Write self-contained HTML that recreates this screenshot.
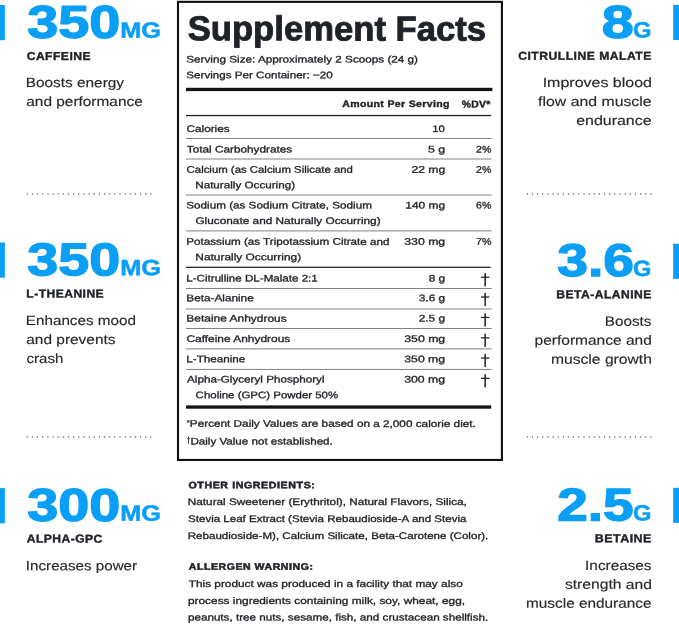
<!DOCTYPE html>
<html><head><meta charset="utf-8"><title>Supplement Facts</title>
<style>
html,body{margin:0;padding:0;background:#fff}
body{width:679px;height:624px;position:relative;overflow:hidden;font-family:"Liberation Sans", sans-serif}
.t{position:absolute;left:0;top:0;white-space:nowrap;margin:0;padding:0;transform-origin:0 0}
#w{position:absolute;left:0;top:0;width:679px;height:624px;will-change:transform}
.bar{position:absolute;width:5px;height:35px;background:#0a9ff6}
.dots{position:absolute;display:block}
.ov{position:absolute;left:0;top:0;display:block}
</style></head>
<body>
<div id="w">
<svg class="ov" width="679" height="624" viewBox="0 0 679 624">
<rect x="0" y="5.00" width="4.9" height="35.2" fill="#0a9ff6"/>
<rect x="0" y="242.50" width="4.9" height="35.2" fill="#0a9ff6"/>
<rect x="0" y="488.10" width="4.9" height="35.2" fill="#0a9ff6"/>
<rect x="673.2" y="4.90" width="5.8" height="35.1" fill="#0a9ff6"/>
<rect x="673.2" y="243.70" width="5.8" height="35.1" fill="#0a9ff6"/>
<rect x="673.2" y="487.80" width="5.8" height="35.1" fill="#0a9ff6"/>
<rect x="178" y="1.85" width="323.9" height="458.1" fill="none" stroke="#0e0f11" stroke-width="2.1"/>
<rect x="186.00" y="87.80" width="306.40" height="3.30" fill="#121315"/>
<rect x="186.00" y="114.90" width="305.20" height="1.30" fill="#1c1e21"/>
<rect x="186.00" y="137.95" width="305.60" height="1.00" fill="#7e8185"/>
<rect x="186.00" y="158.50" width="305.60" height="1.00" fill="#7e8185"/>
<rect x="186.00" y="194.50" width="305.60" height="1.00" fill="#7e8185"/>
<rect x="186.00" y="230.40" width="305.60" height="1.00" fill="#7e8185"/>
<rect x="186.00" y="266.70" width="304.60" height="1.25" fill="#1c1e21"/>
<rect x="484.40" y="273.10" width="1.50" height="13.20" fill="#1f2226"/>
<rect x="480.90" y="276.60" width="8.50" height="1.25" fill="#1f2226"/>
<rect x="186.00" y="288.00" width="305.60" height="1.00" fill="#7e8185"/>
<rect x="484.40" y="292.90" width="1.50" height="13.20" fill="#1f2226"/>
<rect x="480.90" y="296.40" width="8.50" height="1.25" fill="#1f2226"/>
<rect x="186.00" y="308.50" width="305.60" height="1.00" fill="#7e8185"/>
<rect x="484.40" y="313.30" width="1.50" height="13.20" fill="#1f2226"/>
<rect x="480.90" y="316.80" width="8.50" height="1.25" fill="#1f2226"/>
<rect x="186.00" y="328.00" width="305.60" height="1.00" fill="#7e8185"/>
<rect x="484.40" y="333.70" width="1.50" height="13.20" fill="#1f2226"/>
<rect x="480.90" y="337.20" width="8.50" height="1.25" fill="#1f2226"/>
<rect x="186.00" y="348.40" width="305.60" height="1.00" fill="#7e8185"/>
<rect x="484.40" y="353.90" width="1.50" height="13.20" fill="#1f2226"/>
<rect x="480.90" y="357.40" width="8.50" height="1.25" fill="#1f2226"/>
<rect x="186.00" y="368.95" width="305.60" height="1.00" fill="#7e8185"/>
<rect x="484.40" y="374.20" width="1.50" height="13.20" fill="#1f2226"/>
<rect x="480.90" y="377.70" width="8.50" height="1.25" fill="#1f2226"/>
<rect x="186.00" y="405.40" width="305.20" height="3.30" fill="#121315"/>
<rect x="188.10" y="436.40" width="0.90" height="7.40" fill="#3a3c40"/>
<rect x="186.90" y="438.30" width="3.30" height="0.90" fill="#3a3c40"/>
</svg>
<svg class="dots" style="left:25.0px;top:191.80px" width="130" height="4" viewBox="0 0 130 4"><line x1="2.3" y1="2" x2="127" y2="2" stroke="#5f6265" stroke-width="1.5" stroke-linecap="round" stroke-dasharray="0 5.15"/></svg>
<svg class="dots" style="left:524.6px;top:191.80px" width="130" height="4" viewBox="0 0 130 4"><line x1="2.3" y1="2" x2="127" y2="2" stroke="#5f6265" stroke-width="1.5" stroke-linecap="round" stroke-dasharray="0 5.15"/></svg>
<svg class="dots" style="left:25.0px;top:434.80px" width="130" height="4" viewBox="0 0 130 4"><line x1="2.3" y1="2" x2="127" y2="2" stroke="#5f6265" stroke-width="1.5" stroke-linecap="round" stroke-dasharray="0 5.15"/></svg>
<svg class="dots" style="left:524.6px;top:434.80px" width="130" height="4" viewBox="0 0 130 4"><line x1="2.3" y1="2" x2="127" y2="2" stroke="#5f6265" stroke-width="1.5" stroke-linecap="round" stroke-dasharray="0 5.15"/></svg>
<div class="t" style="font-size:46.0px;line-height:52px;color:#0a9ff6;font-weight:700;-webkit-text-stroke:1.3px #0a9ff6;transform:translate(27.21px,-4.25px) scaleX(1.2132) rotate(0.03deg)">350</div>
<div class="t" style="font-size:22.3px;line-height:25px;color:#0a9ff6;font-weight:700;-webkit-text-stroke:0.5px #0a9ff6;transform:translate(120.27px,17.65px) scaleX(1.1355) rotate(0.03deg)">MG</div>
<div class="t" style="font-size:11.5px;line-height:12px;color:#1f2226;font-weight:700;letter-spacing:0.45px;-webkit-text-stroke:0.4px #1f2226;transform:translate(26.67px,49.90px) scaleX(1.0529) rotate(0.03deg)">CAFFEINE</div>
<div class="t" style="font-size:13.4px;line-height:15px;color:#26282b;-webkit-text-stroke:0.15px #26282b;transform:translate(25.75px,75.10px) scaleX(1.1480) rotate(0.03deg)">Boosts energy</div>
<div class="t" style="font-size:13.4px;line-height:15px;color:#26282b;-webkit-text-stroke:0.15px #26282b;transform:translate(26.26px,94.05px) scaleX(1.1507) rotate(0.03deg)">and performance</div>
<div class="t" style="font-size:46.0px;line-height:52px;color:#0a9ff6;font-weight:700;-webkit-text-stroke:1.3px #0a9ff6;transform:translate(27.39px,233.25px) scaleX(1.2103) rotate(0.03deg)">350</div>
<div class="t" style="font-size:22.3px;line-height:25px;color:#0a9ff6;font-weight:700;-webkit-text-stroke:0.5px #0a9ff6;transform:translate(120.18px,255.15px) scaleX(1.1361) rotate(0.03deg)">MG</div>
<div class="t" style="font-size:11.5px;line-height:12px;color:#1f2226;font-weight:700;letter-spacing:0.45px;-webkit-text-stroke:0.4px #1f2226;transform:translate(26.36px,287.40px) scaleX(1.0485) rotate(0.03deg)">L-THEANINE</div>
<div class="t" style="font-size:13.4px;line-height:15px;color:#26282b;-webkit-text-stroke:0.15px #26282b;transform:translate(25.79px,313.00px) scaleX(1.1386) rotate(0.03deg)">Enhances mood</div>
<div class="t" style="font-size:13.4px;line-height:15px;color:#26282b;-webkit-text-stroke:0.15px #26282b;transform:translate(26.28px,331.95px) scaleX(1.1521) rotate(0.03deg)">and prevents</div>
<div class="t" style="font-size:13.4px;line-height:15px;color:#26282b;-webkit-text-stroke:0.15px #26282b;transform:translate(26.43px,350.90px) scaleX(1.1283) rotate(0.03deg)">crash</div>
<div class="t" style="font-size:46.0px;line-height:52px;color:#0a9ff6;font-weight:700;-webkit-text-stroke:1.3px #0a9ff6;transform:translate(27.21px,478.85px) scaleX(1.2131) rotate(0.03deg)">300</div>
<div class="t" style="font-size:22.3px;line-height:25px;color:#0a9ff6;font-weight:700;-webkit-text-stroke:0.5px #0a9ff6;transform:translate(120.27px,500.75px) scaleX(1.1355) rotate(0.03deg)">MG</div>
<div class="t" style="font-size:11.5px;line-height:12px;color:#1f2226;font-weight:700;letter-spacing:0.45px;-webkit-text-stroke:0.4px #1f2226;transform:translate(26.77px,532.60px) scaleX(1.0498) rotate(0.03deg)">ALPHA-GPC</div>
<div class="t" style="font-size:13.4px;line-height:15px;color:#26282b;-webkit-text-stroke:0.15px #26282b;transform:translate(25.87px,558.20px) scaleX(1.1320) rotate(0.03deg)">Increases power</div>
<div class="t" style="font-size:46.0px;line-height:52px;color:#0a9ff6;font-weight:700;-webkit-text-stroke:1.3px #0a9ff6;transform:translate(601.71px,-4.35px) scaleX(1.2515) rotate(0.03deg)">8</div>
<div class="t" style="font-size:22.3px;line-height:25px;color:#0a9ff6;font-weight:700;-webkit-text-stroke:0.5px #0a9ff6;transform:translate(633.07px,17.55px) scaleX(1.0650) rotate(0.03deg)">G</div>
<div class="t" style="font-size:11.5px;line-height:12px;color:#1f2226;font-weight:700;letter-spacing:0.45px;-webkit-text-stroke:0.4px #1f2226;transform:translate(518.24px,49.80px) scaleX(1.0579) rotate(0.03deg)">CITRULLINE MALATE</div>
<div class="t" style="font-size:13.4px;line-height:15px;color:#26282b;-webkit-text-stroke:0.15px #26282b;transform:translate(542.68px,75.00px) scaleX(1.1933) rotate(0.03deg)">Improves blood</div>
<div class="t" style="font-size:13.4px;line-height:15px;color:#26282b;-webkit-text-stroke:0.15px #26282b;transform:translate(538.11px,93.95px) scaleX(1.1819) rotate(0.03deg)">flow and muscle</div>
<div class="t" style="font-size:13.4px;line-height:15px;color:#26282b;-webkit-text-stroke:0.15px #26282b;transform:translate(576.22px,112.90px) scaleX(1.1910) rotate(0.03deg)">endurance</div>
<div class="t" style="font-size:46.0px;line-height:52px;color:#0a9ff6;font-weight:700;-webkit-text-stroke:1.3px #0a9ff6;transform:translate(557.19px,234.05px) scaleX(1.2014) rotate(0.03deg)">3.6</div>
<div class="t" style="font-size:22.3px;line-height:25px;color:#0a9ff6;font-weight:700;-webkit-text-stroke:0.5px #0a9ff6;transform:translate(633.01px,255.95px) scaleX(1.0628) rotate(0.03deg)">G</div>
<div class="t" style="font-size:11.5px;line-height:12px;color:#1f2226;font-weight:700;letter-spacing:0.45px;-webkit-text-stroke:0.4px #1f2226;transform:translate(556.33px,288.20px) scaleX(1.0516) rotate(0.03deg)">BETA-ALANINE</div>
<div class="t" style="font-size:13.4px;line-height:15px;color:#26282b;-webkit-text-stroke:0.15px #26282b;transform:translate(604.79px,313.80px) scaleX(1.1414) rotate(0.03deg)">Boosts</div>
<div class="t" style="font-size:13.4px;line-height:15px;color:#26282b;-webkit-text-stroke:0.15px #26282b;transform:translate(534.54px,332.75px) scaleX(1.1582) rotate(0.03deg)">performance and</div>
<div class="t" style="font-size:13.4px;line-height:15px;color:#26282b;-webkit-text-stroke:0.15px #26282b;transform:translate(550.91px,351.70px) scaleX(1.1704) rotate(0.03deg)">muscle growth</div>
<div class="t" style="font-size:46.0px;line-height:52px;color:#0a9ff6;font-weight:700;-webkit-text-stroke:1.3px #0a9ff6;transform:translate(557.22px,478.55px) scaleX(1.1955) rotate(0.03deg)">2.5</div>
<div class="t" style="font-size:22.3px;line-height:25px;color:#0a9ff6;font-weight:700;-webkit-text-stroke:0.5px #0a9ff6;transform:translate(633.07px,500.45px) scaleX(1.0650) rotate(0.03deg)">G</div>
<div class="t" style="font-size:11.5px;line-height:12px;color:#1f2226;font-weight:700;letter-spacing:0.45px;-webkit-text-stroke:0.4px #1f2226;transform:translate(594.66px,532.30px) scaleX(1.0845) rotate(0.03deg)">BETAINE</div>
<div class="t" style="font-size:13.4px;line-height:15px;color:#26282b;-webkit-text-stroke:0.15px #26282b;transform:translate(585.13px,557.90px) scaleX(1.1426) rotate(0.03deg)">Increases</div>
<div class="t" style="font-size:13.4px;line-height:15px;color:#26282b;-webkit-text-stroke:0.15px #26282b;transform:translate(564.89px,576.85px) scaleX(1.1693) rotate(0.03deg)">strength and</div>
<div class="t" style="font-size:13.4px;line-height:15px;color:#26282b;-webkit-text-stroke:0.15px #26282b;transform:translate(526.04px,595.80px) scaleX(1.1466) rotate(0.03deg)">muscle endurance</div>
<div class="t" style="font-size:34.6px;line-height:38px;color:#1f2226;font-weight:700;-webkit-text-stroke:0.9px #1f2226;transform:translate(187.69px,9.30px) scaleX(1.0020) rotate(0.03deg)">Supplement Facts</div>
<div class="t" style="font-size:9.6px;line-height:11px;color:#1f2226;-webkit-text-stroke:0.32px #1f2226;transform:translate(186.30px,53.50px) scaleX(1.2204) rotate(0.03deg)">Serving Size: Approximately 2 Scoops (24 g)</div>
<div class="t" style="font-size:9.6px;line-height:11px;color:#1f2226;-webkit-text-stroke:0.32px #1f2226;transform:translate(186.38px,69.30px) scaleX(1.2110) rotate(0.03deg)">Servings Per Container: ~20</div>
<div class="t" style="font-size:9.4px;line-height:11px;color:#1f2226;font-weight:700;letter-spacing:0.3px;-webkit-text-stroke:0.4px #1f2226;transform:translate(342.30px,98.00px) scaleX(1.1252) rotate(0.03deg)">Amount Per Serving</div>
<div class="t" style="font-size:10.0px;line-height:11px;color:#1f2226;font-weight:700;letter-spacing:0.3px;-webkit-text-stroke:0.4px #1f2226;transform:translate(461.66px,98.40px) scaleX(1.0424) rotate(0.03deg)">%DV*</div>
<div class="t" style="font-size:9.6px;line-height:11px;color:#1f2226;-webkit-text-stroke:0.32px #1f2226;transform:translate(186.46px,123.00px) scaleX(1.2277) rotate(0.03deg)">Calories</div>
<div class="t" style="font-size:9.6px;line-height:11px;color:#1f2226;-webkit-text-stroke:0.32px #1f2226;transform:translate(432.20px,123.00px) scaleX(1.1824) rotate(0.03deg)">10</div>
<div class="t" style="font-size:9.6px;line-height:11px;color:#1f2226;-webkit-text-stroke:0.32px #1f2226;transform:translate(186.79px,143.50px) scaleX(1.2285) rotate(0.03deg)">Total Carbohydrates</div>
<div class="t" style="font-size:9.6px;line-height:11px;color:#1f2226;-webkit-text-stroke:0.32px #1f2226;transform:translate(427.96px,143.50px) scaleX(1.2947) rotate(0.03deg)">5 g</div>
<div class="t" style="font-size:9.6px;line-height:11px;color:#1f2226;-webkit-text-stroke:0.32px #1f2226;transform:translate(476.07px,143.50px) scaleX(1.1015) rotate(0.03deg)">2%</div>
<div class="t" style="font-size:9.6px;line-height:11px;color:#1f2226;-webkit-text-stroke:0.32px #1f2226;transform:translate(186.61px,163.80px) scaleX(1.1858) rotate(0.03deg)">Calcium (as Calcium Silicate and</div>
<div class="t" style="font-size:9.6px;line-height:11px;color:#1f2226;-webkit-text-stroke:0.32px #1f2226;transform:translate(195.23px,179.20px) scaleX(1.2157) rotate(0.03deg)">Naturally Occuring)</div>
<div class="t" style="font-size:9.6px;line-height:11px;color:#1f2226;-webkit-text-stroke:0.32px #1f2226;transform:translate(411.44px,163.80px) scaleX(1.2687) rotate(0.03deg)">22 mg</div>
<div class="t" style="font-size:9.6px;line-height:11px;color:#1f2226;-webkit-text-stroke:0.32px #1f2226;transform:translate(476.11px,163.80px) scaleX(1.1007) rotate(0.03deg)">2%</div>
<div class="t" style="font-size:9.6px;line-height:11px;color:#1f2226;-webkit-text-stroke:0.32px #1f2226;transform:translate(186.32px,199.50px) scaleX(1.2170) rotate(0.03deg)">Sodium (as Sodium Citrate, Sodium</div>
<div class="t" style="font-size:9.6px;line-height:11px;color:#1f2226;-webkit-text-stroke:0.32px #1f2226;transform:translate(195.41px,214.90px) scaleX(1.2317) rotate(0.03deg)">Gluconate and Naturally Occurring)</div>
<div class="t" style="font-size:9.6px;line-height:11px;color:#1f2226;-webkit-text-stroke:0.32px #1f2226;transform:translate(405.24px,199.50px) scaleX(1.2465) rotate(0.03deg)">140 mg</div>
<div class="t" style="font-size:9.6px;line-height:11px;color:#1f2226;-webkit-text-stroke:0.32px #1f2226;transform:translate(476.07px,199.50px) scaleX(1.1016) rotate(0.03deg)">6%</div>
<div class="t" style="font-size:9.6px;line-height:11px;color:#1f2226;-webkit-text-stroke:0.32px #1f2226;transform:translate(186.30px,235.80px) scaleX(1.2135) rotate(0.03deg)">Potassium (as Tripotassium Citrate and</div>
<div class="t" style="font-size:9.6px;line-height:11px;color:#1f2226;-webkit-text-stroke:0.32px #1f2226;transform:translate(195.29px,251.20px) scaleX(1.2412) rotate(0.03deg)">Naturally Occurring)</div>
<div class="t" style="font-size:9.6px;line-height:11px;color:#1f2226;-webkit-text-stroke:0.32px #1f2226;transform:translate(404.24px,235.80px) scaleX(1.2797) rotate(0.03deg)">330 mg</div>
<div class="t" style="font-size:9.6px;line-height:11px;color:#1f2226;-webkit-text-stroke:0.32px #1f2226;transform:translate(476.13px,235.80px) scaleX(1.1101) rotate(0.03deg)">7%</div>
<div class="t" style="font-size:9.6px;line-height:11px;color:#1f2226;-webkit-text-stroke:0.32px #1f2226;transform:translate(186.30px,272.40px) scaleX(1.2089) rotate(0.03deg)">L-Citrulline DL-Malate 2:1</div>
<div class="t" style="font-size:9.6px;line-height:11px;color:#1f2226;-webkit-text-stroke:0.32px #1f2226;transform:translate(428.72px,272.40px) scaleX(1.2350) rotate(0.03deg)">8 g</div>
<div class="t" style="font-size:9.6px;line-height:11px;color:#1f2226;-webkit-text-stroke:0.32px #1f2226;transform:translate(186.29px,292.20px) scaleX(1.2272) rotate(0.03deg)">Beta-Alanine</div>
<div class="t" style="font-size:9.6px;line-height:11px;color:#1f2226;-webkit-text-stroke:0.32px #1f2226;transform:translate(418.72px,292.20px) scaleX(1.2428) rotate(0.03deg)">3.6 g</div>
<div class="t" style="font-size:9.6px;line-height:11px;color:#1f2226;-webkit-text-stroke:0.32px #1f2226;transform:translate(186.28px,312.60px) scaleX(1.2468) rotate(0.03deg)">Betaine Anhydrous</div>
<div class="t" style="font-size:9.6px;line-height:11px;color:#1f2226;-webkit-text-stroke:0.32px #1f2226;transform:translate(418.75px,312.60px) scaleX(1.2333) rotate(0.03deg)">2.5 g</div>
<div class="t" style="font-size:9.6px;line-height:11px;color:#1f2226;-webkit-text-stroke:0.32px #1f2226;transform:translate(186.43px,333.00px) scaleX(1.2423) rotate(0.03deg)">Caffeine Anhydrous</div>
<div class="t" style="font-size:9.6px;line-height:11px;color:#1f2226;-webkit-text-stroke:0.32px #1f2226;transform:translate(404.24px,333.00px) scaleX(1.2801) rotate(0.03deg)">350 mg</div>
<div class="t" style="font-size:9.6px;line-height:11px;color:#1f2226;-webkit-text-stroke:0.32px #1f2226;transform:translate(186.30px,353.20px) scaleX(1.2160) rotate(0.03deg)">L-Theanine</div>
<div class="t" style="font-size:9.6px;line-height:11px;color:#1f2226;-webkit-text-stroke:0.32px #1f2226;transform:translate(404.30px,353.20px) scaleX(1.2735) rotate(0.03deg)">350 mg</div>
<div class="t" style="font-size:9.6px;line-height:11px;color:#1f2226;-webkit-text-stroke:0.32px #1f2226;transform:translate(187.08px,373.50px) scaleX(1.2155) rotate(0.03deg)">Alpha-Glyceryl Phosphoryl</div>
<div class="t" style="font-size:9.6px;line-height:11px;color:#1f2226;-webkit-text-stroke:0.32px #1f2226;transform:translate(195.63px,389.30px) scaleX(1.1933) rotate(0.03deg)">Choline (GPC) Powder 50%</div>
<div class="t" style="font-size:9.6px;line-height:11px;color:#1f2226;-webkit-text-stroke:0.32px #1f2226;transform:translate(404.14px,373.50px) scaleX(1.2825) rotate(0.03deg)">300 mg</div>
<div class="t" style="font-size:8.0px;line-height:9px;color:#1f2226;-webkit-text-stroke:0.2px #1f2226;transform:translate(186.80px,418.40px) scaleX(1.0000) rotate(0.03deg)">*</div>
<div class="t" style="font-size:9.6px;line-height:11px;color:#1f2226;-webkit-text-stroke:0.32px #1f2226;transform:translate(189.85px,417.80px) scaleX(1.2252) rotate(0.03deg)">Percent Daily Values are based on a 2,000 calorie diet.</div>
<div class="t" style="font-size:9.6px;line-height:11px;color:#1f2226;-webkit-text-stroke:0.32px #1f2226;transform:translate(190.40px,435.50px) scaleX(1.2101) rotate(0.03deg)">Daily Value not established.</div>
<div class="t" style="font-size:9.3px;line-height:10px;color:#1f2226;font-weight:700;letter-spacing:0.5px;-webkit-text-stroke:0.5px #1f2226;transform:translate(188.48px,480.20px) scaleX(1.1463) rotate(0.03deg)">OTHER INGREDIENTS:</div>
<div class="t" style="font-size:9.6px;line-height:11px;color:#1f2226;-webkit-text-stroke:0.32px #1f2226;transform:translate(187.80px,496.00px) scaleX(1.2256) rotate(0.03deg)">Natural Sweetener (Erythritol), Natural Flavors, Silica,</div>
<div class="t" style="font-size:9.6px;line-height:11px;color:#1f2226;-webkit-text-stroke:0.32px #1f2226;transform:translate(188.07px,513.00px) scaleX(1.2026) rotate(0.03deg)">Stevia Leaf Extract (Stevia Rebaudioside-A and Stevia</div>
<div class="t" style="font-size:9.6px;line-height:11px;color:#1f2226;-webkit-text-stroke:0.32px #1f2226;transform:translate(187.72px,530.00px) scaleX(1.2072) rotate(0.03deg)">Rebaudioside-M), Calcium Silicate, Beta-Carotene (Color).</div>
<div class="t" style="font-size:9.3px;line-height:10px;color:#1f2226;font-weight:700;letter-spacing:0.5px;-webkit-text-stroke:0.5px #1f2226;transform:translate(188.74px,561.70px) scaleX(1.1318) rotate(0.03deg)">ALLERGEN WARNING:</div>
<div class="t" style="font-size:9.6px;line-height:11px;color:#1f2226;-webkit-text-stroke:0.32px #1f2226;transform:translate(188.73px,578.00px) scaleX(1.2323) rotate(0.03deg)">This product was produced in a facility that may also</div>
<div class="t" style="font-size:9.6px;line-height:11px;color:#1f2226;-webkit-text-stroke:0.32px #1f2226;transform:translate(187.92px,595.00px) scaleX(1.2384) rotate(0.03deg)">process ingredients containing milk, soy, wheat, egg,</div>
<div class="t" style="font-size:9.6px;line-height:11px;color:#1f2226;-webkit-text-stroke:0.32px #1f2226;transform:translate(187.92px,611.50px) scaleX(1.2165) rotate(0.03deg)">peanuts, tree nuts, sesame, fish, and crustacean shellfish.</div>
</div>
</body></html>
